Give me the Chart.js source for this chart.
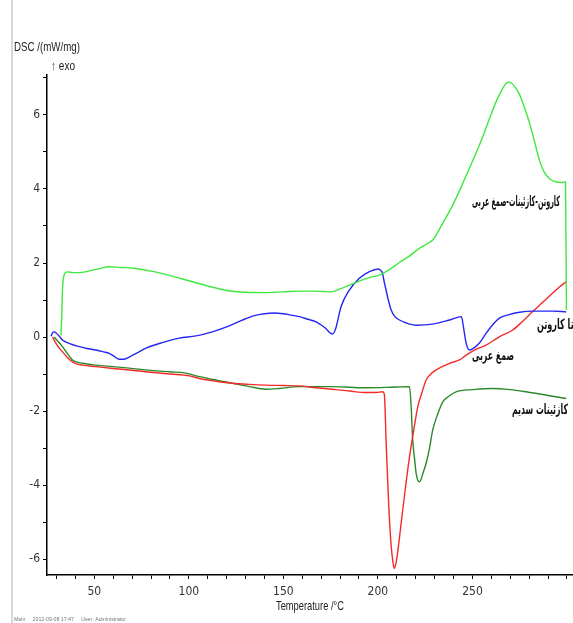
<!DOCTYPE html>
<html>
<head>
<meta charset="utf-8">
<script src="https://cdn.jsdelivr.net/npm/chart.js@4.4.1/dist/chart.umd.min.js"></script>
<style>
html,body{margin:0;padding:0;background:#fff;}
#wrap{position:relative;width:573px;height:623px;}
canvas{display:block;}
</style>
</head>
<body>
<div id="wrap"><canvas id="c" width="573" height="623"></canvas></div>
<script>
// ---- data (Temperature /°C, DSC /(mW/mg)) ----
const complexT = [32.4,32.8,33.2,33.8,34.6,36,38.5,42,47,52,58,64,71,80,90,100,110,121,130,140,150,158.5,166,171,175.4,178,182,185,190,195,201,206,211,217,222,226,229,234,239.4,244,247.4,250,255,259,262,264.3,267,269,271.5,274.9,277.5,280.2,283,285.4,288,291,294.4,297,299.2,299.7];
const complexV = [0.05,0.6,1.3,1.62,1.73,1.76,1.74,1.74,1.78,1.84,1.9,1.88,1.86,1.78,1.66,1.52,1.38,1.25,1.21,1.2,1.22,1.24,1.24,1.23,1.22,1.26,1.34,1.4,1.51,1.6,1.68,1.82,2.0,2.2,2.4,2.52,2.62,3.05,3.55,4.05,4.45,4.75,5.35,5.9,6.3,6.55,6.8,6.89,6.82,6.55,6.2,5.78,5.25,4.78,4.45,4.27,4.19,4.18,4.19,0.73];

const caroteneT = [27.1,28.0,28.8,30,31.5,33.2,37,42.1,46,50.9,55,57.9,60.5,63.2,65.5,68.5,73,77.4,86,95,103.8,112.4,121.4,128,134.7,140,145.2,150,153.2,158.5,163,167.3,172,175.9,177.5,180.5,184.9,190.2,195.5,200.3,201.5,202.4,203.3,204.3,205.5,207,209,211.4,215,220.2,228.8,237.8,244.2,245.2,246.7,248.4,250,253.7,257.2,260.5,264.3,269,274.9,281.7,292.3,299.6];
const caroteneV = [0.02,0.12,0.14,0.1,0.02,-0.08,-0.18,-0.26,-0.31,-0.35,-0.4,-0.44,-0.52,-0.6,-0.6,-0.54,-0.42,-0.3,-0.15,-0.03,0.03,0.14,0.3,0.45,0.58,0.63,0.65,0.63,0.6,0.55,0.48,0.41,0.25,0.08,0.2,0.82,1.27,1.59,1.77,1.84,1.8,1.73,1.5,1.27,1.0,0.73,0.55,0.46,0.38,0.32,0.35,0.46,0.55,0.28,-0.17,-0.35,-0.32,-0.16,0.1,0.32,0.51,0.6,0.67,0.7,0.7,0.68];

const gumT = [27.9,29.5,31.2,33.2,35.8,38.5,41,43.8,50.9,60,68.5,80,90,100.3,105.6,115,123,132,140.8,150,158.5,167,175.9,185,193.8,199,202.5,203.4,204.4,205.6,206.8,208,208.7,209.6,210.5,212.3,214.5,216.7,219,221.1,223.3,225.5,228,230.8,234,237.8,243.1,246.7,252,257.2,264,271.3,276,281.7,287,292.3,296,299.6];
const gumV = [0.0,-0.15,-0.28,-0.4,-0.55,-0.67,-0.73,-0.76,-0.8,-0.85,-0.89,-0.95,-1.0,-1.05,-1.12,-1.2,-1.25,-1.28,-1.3,-1.31,-1.32,-1.37,-1.41,-1.46,-1.5,-1.5,-1.48,-1.55,-2.9,-4.4,-5.5,-6.1,-6.25,-6.1,-5.8,-5.03,-4.1,-3.24,-2.5,-1.88,-1.5,-1.16,-1.0,-0.89,-0.8,-0.71,-0.62,-0.49,-0.33,-0.22,0.0,0.19,0.4,0.68,0.93,1.18,1.35,1.5];

const caseinT = [28.8,30.5,33.2,35.8,38.5,41,43.8,50.9,60,68.5,80,90,97.6,105.6,115,123,132,140.8,147.9,158.5,175.9,193.8,205,216.7,217.6,218.4,219.4,220.2,221.1,222,223,223.7,225.5,227.3,229,231.5,234.3,237.5,241.3,250,260.7,270,278.4,290,299.6];
const caseinV = [0.0,-0.1,-0.26,-0.45,-0.62,-0.68,-0.71,-0.76,-0.8,-0.84,-0.9,-0.94,-0.97,-1.07,-1.17,-1.25,-1.34,-1.41,-1.39,-1.34,-1.34,-1.37,-1.36,-1.34,-1.9,-2.78,-3.3,-3.68,-3.87,-3.91,-3.82,-3.7,-3.41,-3.0,-2.51,-2.1,-1.75,-1.6,-1.48,-1.42,-1.39,-1.42,-1.48,-1.58,-1.66];

const seriesNames = ["كاروتن-كازئينات-صمغ عربى", "بتا كاروتن", "صمغ عربى", "كازئينات سديم"];
const xTickLabels = [50, 100, 150, 200, 250];
const yTickLabels = [-6, -4, -2, 0, 2, 4, 6];

function pts(t, v){ return t.map((x,i)=>({x:x, y:v[i]})); }

const NARROW = '"Liberation Sans Narrow", "DejaVu Sans Condensed", "Liberation Sans", sans-serif';

function fitText(ctx, txt, x, y, w, align){
  const m = ctx.measureText(txt).width;
  const s = w / m;
  ctx.save();
  ctx.translate(x, y);
  ctx.scale(s, 1);
  ctx.textAlign = align;
  ctx.fillText(txt, 0, 0);
  ctx.restore();
}

const textPlugin = {
  id: 'texts',
  afterDraw(chart){
    const ctx = chart.ctx;
    ctx.save();
    // window frame line
    ctx.strokeStyle = '#d8d8d8';
    ctx.lineWidth = 2;
    ctx.beginPath(); ctx.moveTo(12, 0); ctx.lineTo(12, 623); ctx.stroke();
    ctx.fillStyle = '#222';
    ctx.textBaseline = 'middle';
    ctx.font = '13px "Liberation Sans", sans-serif';
    fitText(ctx, 'DSC /(mW/mg)', 14, 47, 66, 'left');
    fitText(ctx, '\u2191 exo', 51, 66, 24, 'left');
    fitText(ctx, 'Temperature /\u00B0C', 310, 606, 68, 'center');
    ctx.fillStyle = '#777';
    ctx.font = '6px "Liberation Sans", sans-serif';
    fitText(ctx, 'Main     2012-09-08 17:47     User: Administrator', 14, 619, 112, 'left');
    // series labels (Arabic)
    const labels = [
      {t: seriesNames[0], right: 560, w: 88, y: 202},
      {t: seriesNames[1], right: 577, w: 40, y: 325},
      {t: seriesNames[2], right: 514, w: 42, y: 356},
      {t: seriesNames[3], right: 568, w: 56, y: 410}
    ];
    ctx.fillStyle = '#111';
    ctx.font = 'bold 14px "DejaVu Sans", sans-serif';
    ctx.direction = 'rtl';
    labels.forEach(l=> fitText(ctx, l.t, l.right, l.y, l.w, 'right'));
    ctx.restore();
  }
};

const lineCommon = {borderWidth: 1.4, pointRadius: 0, fill: false, cubicInterpolationMode: 'monotone'};

new Chart(document.getElementById('c'), {
  type: 'line',
  data: {
    datasets: [
      Object.assign({label: seriesNames[0], data: pts(complexT, complexV), borderColor: '#3ee83e'}, lineCommon),
      Object.assign({label: seriesNames[1], data: pts(caroteneT, caroteneV), borderColor: '#2626f2'}, lineCommon),
      Object.assign({label: seriesNames[2], data: pts(gumT, gumV), borderColor: '#f42a2a'}, lineCommon),
      Object.assign({label: seriesNames[3], data: pts(caseinT, caseinV), borderColor: '#2a8a2a'}, lineCommon)
    ]
  },
  options: {
    responsive: false,
    animation: false,
    devicePixelRatio: 1,
    layout: {padding: {top: 75, right: 0, left: 0, bottom: 0}},
    plugins: {legend: {display: false}, tooltip: {enabled: false}},
    scales: {
      x: {
        type: 'linear', min: 25, max: 303,
        afterFit(s){ s.height = 48; },
        border: {display: true, color: '#000', width: 1.5},
        grid: {display: true, drawOnChartArea: false, drawTicks: true, tickLength: 4, color: '#000'},
        ticks: {
          stepSize: 10, includeBounds: false, autoSkip: false, maxRotation: 0, padding: 6,
          color: '#333', font: {family: NARROW, size: 12},
          callback: v => xTickLabels.includes(v) ? String(v) : ''
        }
      },
      y: {
        type: 'linear', min: -6.43, max: 7.08,
        afterFit(s){ s.width = 47; },
        border: {display: true, color: '#000', width: 1.5},
        grid: {display: true, drawOnChartArea: false, drawTicks: true, tickLength: 4, color: '#000'},
        ticks: {
          stepSize: 1, includeBounds: false, autoSkip: false, padding: 3,
          color: '#333', font: {family: NARROW, size: 12},
          callback: v => yTickLabels.includes(v) ? String(v) : ''
        }
      }
    }
  },
  plugins: [textPlugin]
});
</script>
</body>
</html>
